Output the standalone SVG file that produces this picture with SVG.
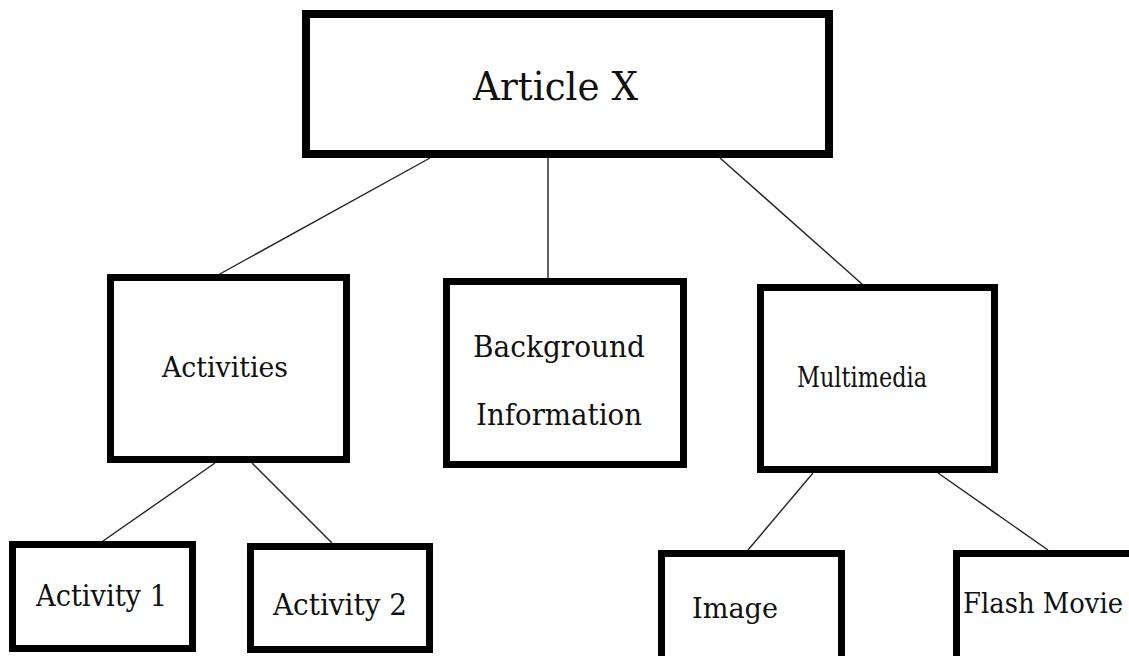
<svg xmlns="http://www.w3.org/2000/svg" width="1129" height="656" viewBox="0 0 1129 656">
<style>
.box{fill:#fff;stroke:#000;stroke-width:7}
.lbl{font-family:"DejaVu Serif","Liberation Serif",serif;fill:#111}
.conn line{stroke:#222;stroke-width:1.4}
</style>
<rect width="1129" height="656" fill="#fff"/>
<g id="connectors" class="conn">
<line x1="430" y1="158" x2="218" y2="275"/>
<line x1="548" y1="158" x2="548" y2="278"/>
<line x1="720" y1="158" x2="862" y2="284"/>
<line x1="215" y1="463" x2="103" y2="541"/>
<line x1="252" y1="463" x2="332" y2="543"/>
<line x1="813" y1="473" x2="748" y2="550"/>
<line x1="938" y1="473" x2="1048" y2="550"/>
</g>
<g id="article-x">
<rect class="box" x="306" y="14" width="523" height="140" style="stroke-width:8"/>
<text class="lbl" x="473" y="100" font-size="39" textLength="165" lengthAdjust="spacingAndGlyphs">Article X</text>
</g>
<g id="activities">
<rect class="box" x="110.5" y="277.5" width="236" height="182"/>
<text class="lbl" x="162" y="377" font-size="28" textLength="126" lengthAdjust="spacingAndGlyphs">Activities</text>
</g>
<g id="background-information">
<rect class="box" x="446.5" y="281.5" width="237" height="183"/>
<text class="lbl" x="473" y="357" font-size="30" textLength="172" lengthAdjust="spacingAndGlyphs">Background</text>
<text class="lbl" x="476" y="425" font-size="30" textLength="166" lengthAdjust="spacingAndGlyphs">Information</text>
</g>
<g id="multimedia">
<rect class="box" x="760.5" y="287.5" width="234" height="182"/>
<text class="lbl" x="797" y="387" font-size="27" textLength="130" lengthAdjust="spacingAndGlyphs">Multimedia</text>
</g>
<g id="activity-1">
<rect class="box" x="12.5" y="544.5" width="180" height="104"/>
<text class="lbl" x="36" y="606" font-size="30" textLength="131" lengthAdjust="spacingAndGlyphs">Activity 1</text>
</g>
<g id="activity-2">
<rect class="box" x="250.5" y="546.5" width="179" height="103"/>
<text class="lbl" x="273" y="615" font-size="30" textLength="134" lengthAdjust="spacingAndGlyphs">Activity 2</text>
</g>
<g id="image">
<rect class="box" x="661.5" y="553.5" width="180" height="120"/>
<text class="lbl" x="692" y="618" font-size="28" textLength="86" lengthAdjust="spacingAndGlyphs">Image</text>
</g>
<g id="flash-movie">
<rect class="box" x="956.5" y="553.5" width="200" height="120"/>
<text class="lbl" x="963" y="613" font-size="27" textLength="160" lengthAdjust="spacingAndGlyphs">Flash Movie</text>
</g>
</svg>
